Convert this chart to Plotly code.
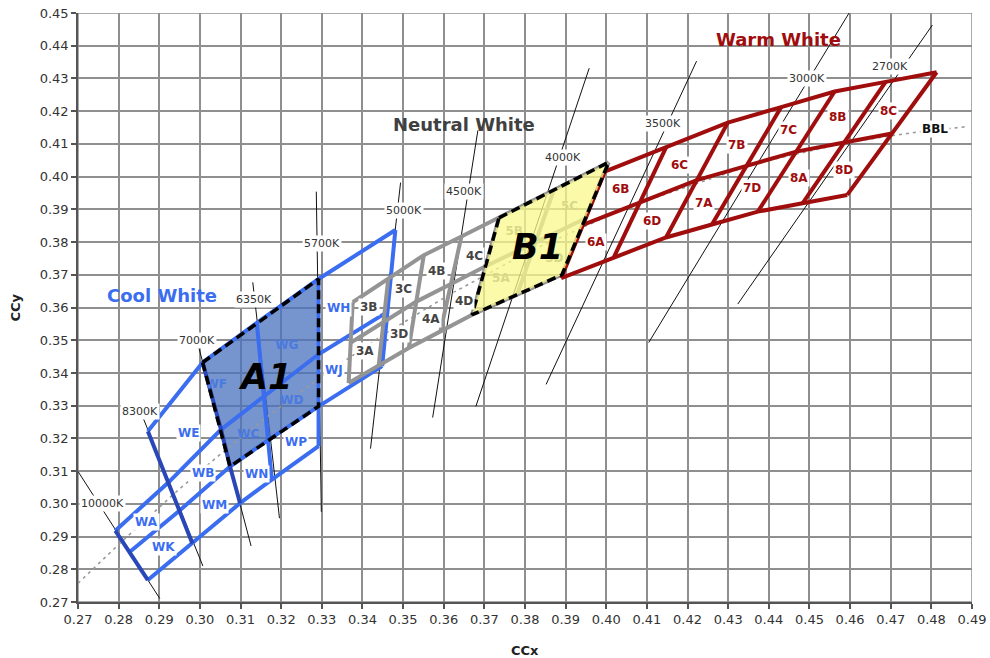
import plotly.graph_objects as go

FONT = "DejaVu Sans"
BLUE = "#3a6df0"
BLUE_DARK = "#2a47b8"
GRAY = "#949494"
RED = "#a00d0d"

# ---------------- Cool White grid (columns: 10000K, 8300K, 7000K, 6350K, 5700K, edge)
cool_top_x = [None, 0.2872, 0.30067, 0.3140, 0.3292, 0.3481]
cool_top_y = [None, 0.3222, 0.3432, 0.3553, 0.3687, 0.3837]
cool_r1_x = [0.27918, 0.29222, 0.30519, 0.31575, 0.3292, 0.34605]
cool_r1_y = [0.2918, 0.3065, 0.3227, 0.3328, 0.3457, 0.3586]
cool_r2_x = [0.28264, 0.29494, 0.30741, 0.31679, 0.3292, 0.34486]
cool_r2_y = [0.2852, 0.2979, 0.3114, 0.3195, 0.3298, 0.3421]
cool_r3_x = [0.2872, 0.29815, 0.30988, 0.3177, 0.3292, None]
cool_r3_y = [0.2767, 0.2879, 0.3002, 0.3074, 0.3176, None]

cool_bins = ["WA", "WK", "WE", "WB", "WM", "WN", "WP", "WH", "WJ"]
cool_bins_x = [0.28684, 0.29094, 0.29711, 0.30081, 0.3037, 0.3140, 0.3237, 0.33415, 0.33309]
cool_bins_y = [0.29457, 0.2869, 0.32169, 0.30942, 0.29969, 0.3092, 0.3188, 0.35972, 0.34089]
cool_inner_bins = ["WF", "WG", "WD", "WC"]
cool_inner_x = [0.30401, 0.32141, 0.32264, 0.31193]
cool_inner_y = [0.3362, 0.34825, 0.33138, 0.32117]

# ---------------- Neutral White grid (5000K, 4500K, 4000K quadrangles)
neutral_top_x = [0.3376, 0.34635, 0.3551, 0.36435, 0.3736, 0.3871, 0.4006]
neutral_top_y = [0.3616, 0.3688, 0.3760, 0.3817, 0.3874, 0.3959, 0.4044]
neutral_mid_x = [0.3371, 0.34518, 0.35325, 0.36178, 0.3703, 0.38258, 0.39485]
neutral_mid_y = [0.34925, 0.35553, 0.3618, 0.3672, 0.3726, 0.3799, 0.3872]
neutral_bot_x = [0.3366, 0.3440, 0.3514, 0.3592, 0.3670, 0.37805, 0.3891]
neutral_bot_y = [0.3369, 0.34225, 0.3476, 0.3527, 0.3578, 0.3639, 0.3700]

neutral_bins = ["3B", "3A", "3C", "3D", "4B", "4A", "4C", "4D"]
neutral_bins_x = [0.34156, 0.34074, 0.3502, 0.34896, 0.35844, 0.35679, 0.36748, 0.36501]
neutral_bins_y = [0.36003, 0.34672, 0.36564, 0.35184, 0.37126, 0.35644, 0.37586, 0.36206]
neutral_inner_bins = ["5B", "5A", "5C", "5D"]
neutral_inner_x = [0.37736, 0.37407, 0.39094, 0.38723]
neutral_inner_y = [0.38304, 0.36871, 0.39071, 0.37485]

# ---------------- Warm White grid (3500K, 3000K, 2700K quadrangles)
warm_top_x = [0.3996, 0.41475, 0.4299, 0.44305, 0.4562, 0.46875, 0.4813]
warm_top_y = [0.4015, 0.4090, 0.4165, 0.42125, 0.4260, 0.42895, 0.4319]
warm_mid_x = [0.39425, 0.40828, 0.4223, 0.43453, 0.44675, 0.45853, 0.4703]
warm_mid_y = [0.38525, 0.3921, 0.39895, 0.4033, 0.40765, 0.4104, 0.41315]
warm_bot_x = [0.3889, 0.4018, 0.4147, 0.4260, 0.4373, 0.4483, 0.4593]
warm_bot_y = [0.3690, 0.3752, 0.3814, 0.38535, 0.3893, 0.39185, 0.3944]

warm_bins = ["6A", "6B", "6C", "6D", "7B", "7A", "7C", "7D", "8B", "8A", "8C", "8D"]
warm_bins_x = [0.39753, 0.40353, 0.41795, 0.41128, 0.4321, 0.42412, 0.44486, 0.43598, 0.45704, 0.44733, 0.46955, 0.45844]
warm_bins_y = [0.37997, 0.39632, 0.40368, 0.38629, 0.4096, 0.39202, 0.4142, 0.39653, 0.41831, 0.3996, 0.42003, 0.40193]

# ---------------- Isotherm (CCT) lines and their labels
cct_names = ["10000K", "8300K", "7000K", "6350K", "5700K", "5000K", "4500K", "4000K", "3500K", "3000K", "2700K"]
cct_x0 = [0.27, 0.28519, 0.29926, 0.31301, 0.32864, 0.34938, 0.3684, 0.3958, 0.42222, 0.45975, 0.48025]
cct_y0 = [0.3099, 0.32883, 0.3500, 0.3677, 0.3954, 0.39816, 0.41411, 0.43313, 0.43528, 0.4500, 0.44632]
cct_x1 = [0.29012, 0.30074, 0.31259, 0.31958, 0.32988, 0.34198, 0.35728, 0.3679, 0.38519, 0.41044, 0.43235]
cct_y1 = [0.27107, 0.28098, 0.28712, 0.29561, 0.29755, 0.31687, 0.32638, 0.32975, 0.3365, 0.34929, 0.36104]
cct_label_x = [0.27612, 0.28519, 0.29919, 0.31341, 0.33005, 0.3502, 0.36501, 0.38931, 0.4140, 0.44938, 0.46988]
cct_label_y = [0.30021, 0.32813, 0.34978, 0.36258, 0.37945, 0.38966, 0.39549, 0.40574, 0.41626, 0.43006, 0.43374]

# ---------------- Black body locus
bbl_x = [0.2700, 0.2807, 0.2952, 0.3064, 0.3135, 0.3221, 0.3324, 0.3451, 0.3608, 0.3805, 0.4053, 0.4369, 0.4599, 0.4770, 0.4889]
bbl_y = [0.2757, 0.2884, 0.3048, 0.3166, 0.3237, 0.3318, 0.3410, 0.3516, 0.3635, 0.3768, 0.3907, 0.4041, 0.4106, 0.4137, 0.4153]

fig = go.Figure()


def line_trace(xs, ys, color, width, dash="solid"):
    fig.add_trace(go.Scatter(x=xs, y=ys, mode="lines",
                             line=dict(color=color, width=width, dash=dash),
                             hoverinfo="skip", showlegend=False))


def fill_trace(xs, ys, color):
    fig.add_trace(go.Scatter(x=xs, y=ys, mode="lines", fill="toself",
                             fillcolor=color, line=dict(width=0),
                             hoverinfo="skip", showlegend=False))


def grid_rows(rows_x, rows_y):
    xs, ys = [], []
    for rx, ry in zip(rows_x, rows_y):
        for a, b in zip(rx, ry):
            if a is not None:
                xs.append(a)
                ys.append(b)
        xs.append(None)
        ys.append(None)
    return xs, ys


def grid_cols(rows_x, rows_y, cols):
    xs, ys = [], []
    for c in cols:
        for rx, ry in zip(rows_x, rows_y):
            if rx[c] is not None:
                xs.append(rx[c])
                ys.append(ry[c])
        xs.append(None)
        ys.append(None)
    return xs, ys


# isotherm lines (thin black)
xs, ys = [], []
for a, b, c, d in zip(cct_x0, cct_y0, cct_x1, cct_y1):
    xs += [a, c, None]
    ys += [b, d, None]
line_trace(xs, ys, "#111111", 1)

# A1 region shading (7000K .. 5700K, top line .. second row line)
a1_x = [cool_top_x[2], cool_top_x[4], cool_r2_x[4], cool_r2_x[2], cool_top_x[2]]
a1_y = [cool_top_y[2], cool_top_y[4], cool_r2_y[4], cool_r2_y[2], cool_top_y[2]]
fill_trace(a1_x, a1_y, "rgba(72,112,188,0.75)")

# black body locus (dotted)
line_trace(bbl_x, bbl_y, "#9a9a9a", 1.6, "3px,4px")

# cool white grid
cool_rx = [cool_top_x, cool_r1_x, cool_r2_x, cool_r3_x]
cool_ry = [cool_top_y, cool_r1_y, cool_r2_y, cool_r3_y]
xs, ys = grid_rows(cool_rx, cool_ry)
line_trace(xs, ys, BLUE, 4)
xs, ys = grid_cols(cool_rx, cool_ry, [3, 4, 5])
line_trace(xs, ys, BLUE, 4)
xs, ys = grid_cols(cool_rx, cool_ry, [0, 1, 2])
line_trace(xs, ys, BLUE_DARK, 4)

# neutral white grid
n_rx = [neutral_top_x, neutral_mid_x, neutral_bot_x]
n_ry = [neutral_top_y, neutral_mid_y, neutral_bot_y]
xs, ys = grid_rows(n_rx, n_ry)
line_trace(xs, ys, GRAY, 4)
xs, ys = grid_cols(n_rx, n_ry, range(7))
line_trace(xs, ys, GRAY, 4)

# warm white grid
w_rx = [warm_top_x, warm_mid_x, warm_bot_x]
w_ry = [warm_top_y, warm_mid_y, warm_bot_y]
xs, ys = grid_rows(w_rx, w_ry)
line_trace(xs, ys, RED, 4)
xs, ys = grid_cols(w_rx, w_ry, range(7))
line_trace(xs, ys, RED, 4)

# labels inside A1 (no white boxes)
fig.add_trace(go.Scatter(x=cool_inner_x, y=cool_inner_y, mode="text",
                         text=["<b>%s</b>" % t for t in cool_inner_bins],
                         textfont=dict(family=FONT, size=12, color="#4a7ae0"),
                         hoverinfo="skip", showlegend=False))
# labels under the B1 shading
fig.add_trace(go.Scatter(x=neutral_inner_x, y=neutral_inner_y, mode="text",
                         text=["<b>%s</b>" % t for t in neutral_inner_bins],
                         textfont=dict(family=FONT, size=12, color="#777777"),
                         hoverinfo="skip", showlegend=False))

# B1 region shading (4000K quadrangle)
b1_x = [neutral_top_x[4], neutral_top_x[6], neutral_bot_x[6], neutral_bot_x[4], neutral_top_x[4]]
b1_y = [neutral_top_y[4], neutral_top_y[6], neutral_bot_y[6], neutral_bot_y[4], neutral_top_y[4]]
fill_trace(b1_x, b1_y, "rgba(248,248,140,0.75)")

line_trace(a1_x, a1_y, "#000000", 3.5, "9px,5px")
line_trace(b1_x, b1_y, "#000000", 3.5, "9px,5px")

annotations = []


def label(x, y, text, color, size=12, bg="white", pad=1):
    annotations.append(dict(x=x, y=y, xref="x", yref="y", text=text, showarrow=False,
                            font=dict(family=FONT, size=size, color=color),
                            bgcolor=bg, borderpad=pad))


for n, x, y in zip(cct_names, cct_label_x, cct_label_y):
    label(x, y, n, "#333333", size=11)
for n, x, y in zip(cool_bins, cool_bins_x, cool_bins_y):
    label(x, y, "<b>%s</b>" % n, BLUE)
for n, x, y in zip(neutral_bins, neutral_bins_x, neutral_bins_y):
    label(x, y, "<b>%s</b>" % n, "#444444")
for n, x, y in zip(warm_bins, warm_bins_x, warm_bins_y):
    label(x, y, "<b>%s</b>" % n, RED)
label(0.48101, 0.41451, "<b>BBL</b>", "#111111")

label(0.29062, 0.3638, "<b>Cool White</b>", BLUE, size=18, bg="rgba(0,0,0,0)")
label(0.36494, 0.41595, "<b>Neutral White</b>", "#404040", size=18, bg="rgba(0,0,0,0)")
label(0.44247, 0.44202, "<b>Warm White</b>", RED, size=18, bg="rgba(0,0,0,0)")
label(0.31605, 0.33865, "<b><i>A1</i></b>", "#000000", size=35, bg="rgba(0,0,0,0)")
label(0.38296, 0.37853, "<b><i>B1</i></b>", "#000000", size=35, bg="rgba(0,0,0,0)")

annotations.append(dict(x=0.5, y=0, xref="paper", yref="paper", yshift=-48,
                        text="<b>CCx</b>", showarrow=False, yanchor="middle",
                        font=dict(family=FONT, size=13, color="#222222")))
annotations.append(dict(x=0, y=0.5, xref="paper", yref="paper", xshift=-63,
                        text="<b>CCy</b>", showarrow=False, textangle=-90, xanchor="center",
                        font=dict(family=FONT, size=13, color="#222222")))

axis_common = dict(showgrid=True, gridcolor="#8f8f8f", gridwidth=1.5, zeroline=False,
                   showline=True, linecolor="#555555", linewidth=1.5,
                   ticks="outside", ticklen=5, tickcolor="#555555", tickwidth=1.5,
                   dtick=0.01, tickformat=".2f", automargin=False,
                   tickfont=dict(family=FONT, size=13, color="#333333"))

fig.update_layout(
    width=990, height=658,
    margin=dict(l=78, r=18, t=13, b=56),
    paper_bgcolor="white", plot_bgcolor="white",
    xaxis=dict(range=[0.27, 0.49], tick0=0.27, **axis_common),
    yaxis=dict(range=[0.27, 0.45], tick0=0.27, **axis_common),
    annotations=annotations,
    shapes=[dict(type="rect", xref="x", yref="y", x0=0.27, x1=0.49, y0=0.27, y1=0.45,
                 line=dict(color="#8f8f8f", width=1.5), layer="below")],
)

fig.write_html("out.html", config={"displayModeBar": False},
               post_script="document.body.style.margin='0';document.body.style.padding='0';"
                           "document.body.style.overflow='hidden';")
